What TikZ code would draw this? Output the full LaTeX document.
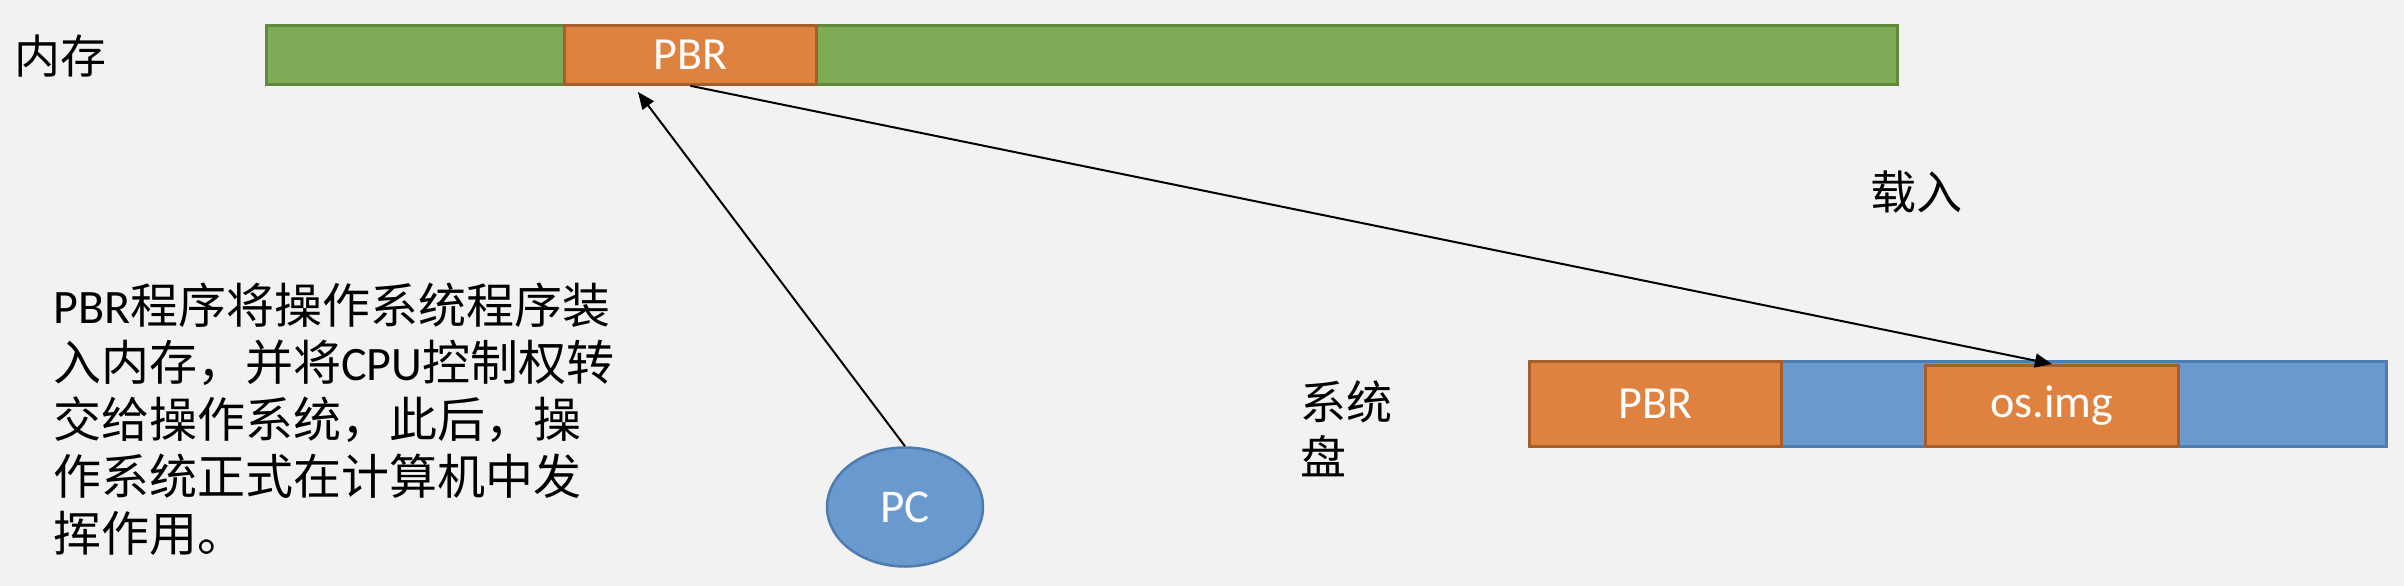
\documentclass[tikz,border=0pt]{standalone}
\usepackage{fontspec}
\setmainfont{Noto Sans CJK SC}
\newfontfamily\lat{Carlito}
\usetikzlibrary{arrows.meta,%
                shapes,positioning}

\definecolor{memgreen}{HTML}{7FAB56}
\definecolor{memgreenline}{HTML}{5F8A3E}
\definecolor{blockorange}{HTML}{E0823F}
\definecolor{blockorangeline}{HTML}{A65F2C}
\definecolor{diskblue}{HTML}{6A99CF}
\definecolor{diskblueline}{HTML}{4F7CAE}
\definecolor{bggray}{HTML}{F2F2F2}

\tikzset{
  cell/.style={draw, line width=2.8pt, inner sep=0pt, anchor=north west,
               text=white, font=\lat\fontsize{46}{55}\selectfont},
  orangecell/.style={cell, fill=blockorange, draw=blockorangeline},
  tag/.style={inner sep=0pt, font=\fontsize{46}{55}\selectfont},
  link/.style={line width=2pt, -{Triangle[length=17pt,width=14pt]}}
}

\begin{document}
\begin{tikzpicture}[x=1pt,y=-1pt]
\fill[bggray] (0,0) rectangle (2404,586);
\useasboundingbox (0,0) rectangle (2404,586);
% memory
\node[cell, fill=memgreen, draw=memgreenline, minimum width=1631pt, minimum height=59pt] (mem) at (265,24) {};
\node[orangecell, minimum width=252pt, minimum height=59pt] (mempbr) at (563,24) {PBR};
\node[tag] (memtag) at (60,56) {内存};
% disk
\node[cell, fill=diskblue, draw=diskblueline, minimum width=857pt, minimum height=85pt] (disk) at (1528,360) {};
\node[orangecell, minimum width=252pt, minimum height=85pt] (diskpbr) at (1528,360) {PBR};
\node[orangecell, minimum width=253pt, minimum height=81pt] (osimg) at (1924,364) {os.img};
\node[tag, align=left, anchor=north west] (disktag) at (1300,380) {系统\\盘};
\node[tag] (loadtag) at (1916,192) {载入};
% pc
\node[ellipse, draw=diskblueline, fill=diskblue, line width=2.5pt, minimum width=156pt, minimum height=119pt,
      inner sep=0pt, text=white, font=\lat\fontsize{47}{55}\selectfont] (pc) at (905,507) {PC};
\coordinate (pctip) at (638,92);
\draw[link] (pc.north) -- (pctip);
\draw[link] (mempbr.south) -- (osimg.north);
% note
\node[tag, align=left, anchor=north west, font=\fontsize{48}{57}\selectfont] (note) at (53,283)
  {{\lat PBR}程序将操作系统程序装\\入内存，并将{\lat CPU}控制权转\\交给操作系统，此后，操\\作系统正式在计算机中发\\挥作用。};
\end{tikzpicture}
\end{document}
